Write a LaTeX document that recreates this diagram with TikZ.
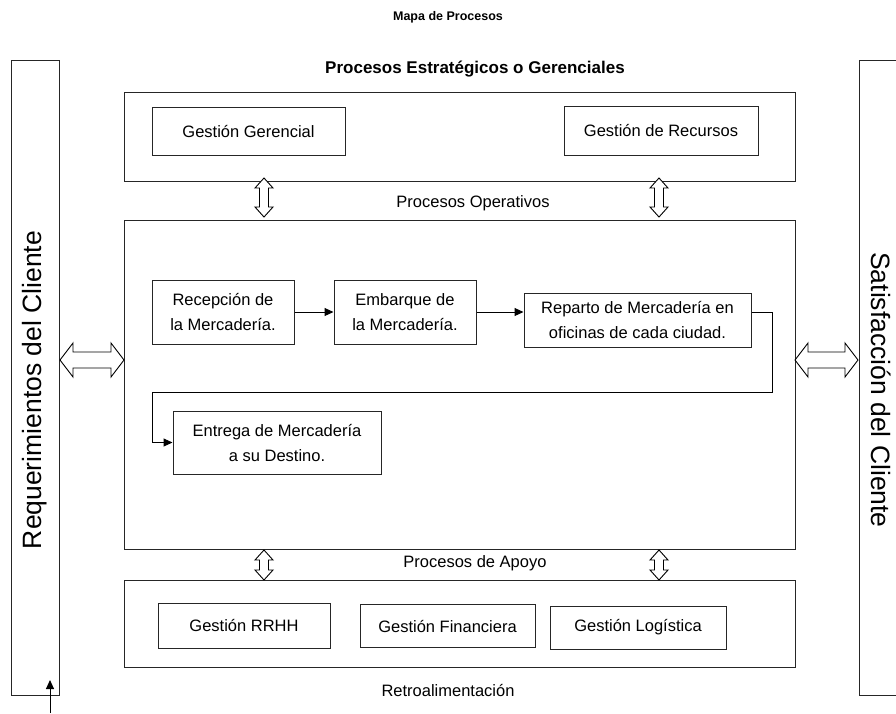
\documentclass[tikz,border=0pt]{standalone}
\usepackage{fontspec}
\setmainfont{Liberation Sans}
\usetikzlibrary{arrows.meta}

\tikzset{
  frame/.style={draw=black!85, line width=1pt, inner sep=0pt},
  procbox/.style={frame, align=center, font=\fontsize{16.5}{25}\selectfont},
  lbl/.style={inner sep=0pt, font=\fontsize{16.5}{20}\selectfont},
  ttl/.style={inner sep=0pt, font=\fontsize{12.5}{15}\selectfont\bfseries},
  side/.style={inner sep=0pt, font=\fontsize{26.5}{30}\selectfont},
  flow/.style={draw=black, line width=1pt, -{Triangle[length=9pt,width=8pt]}},
  hollow/.style={draw=black, line width=0.9pt, fill=white, line join=miter},
}

% hollow two-headed arrows drawn as outlines
% vertical: centre x, top y, bottom y
\newcommand{\vdblarrow}[3]{%
  \draw[hollow] (#1,#2) -- (#1+9,#2+10) -- (#1+4.5,#2+10) -- (#1+4.5,#3-10)
    -- (#1+9,#3-10) -- (#1,#3) -- (#1-9,#3-10) -- (#1-4.5,#3-10)
    -- (#1-4.5,#2+10) -- (#1-9,#2+10) -- cycle;}
% horizontal: left x, right x, centre y
\newcommand{\hdblarrow}[3]{%
  \draw[hollow] (#1,#3) -- (#1+13,#3-17) -- (#1+13,#3-8) -- (#2-13,#3-8)
    -- (#2-13,#3-17) -- (#2,#3) -- (#2-13,#3+17) -- (#2-13,#3+8)
    -- (#1+13,#3+8) -- (#1+13,#3+17) -- cycle;}

\begin{document}
\begin{tikzpicture}[x=1pt, y=-1pt]
  \useasboundingbox (0,0) rectangle (896,713);

  % titles
  \node[ttl] (title) at (448,17) {Mapa de Procesos};
  \node[ttl, font=\fontsize{17}{20}\selectfont\bfseries] (strattitle) at (475,69) {Procesos Estratégicos o Gerenciales};

  % side columns
  \node[frame, minimum width=48pt, minimum height=635pt] (req) at (35,377.5) {};
  \node[side, rotate=90] (reqtxt) at (35,390) {Requerimientos del Cliente};
  \node[frame, minimum width=48pt, minimum height=635pt] (sat) at (883,377.5) {};
  \node[side, rotate=-90] (sattxt) at (881,390) {Satisfacción del Cliente};

  % strategic processes
  \node[frame, minimum width=671pt, minimum height=89pt] (strat) at (459.5,136.5) {};
  \node[procbox, minimum width=193pt, minimum height=48pt] (ger) at (248.5,131) {Gestión Gerencial};
  \node[procbox, minimum width=194pt, minimum height=49pt] (recur) at (661,130.5) {Gestión de Recursos};

  % operational processes
  \node[lbl] (optitle) at (473,203) {Procesos Operativos};
  \node[frame, minimum width=671pt, minimum height=329pt] (oper) at (459.5,384.5) {};
  \node[procbox, minimum width=142pt, minimum height=64pt] (recep) at (223,312) {Recepción de\\la Mercadería.};
  \node[procbox, minimum width=142pt, minimum height=64pt] (emb) at (405,312) {Embarque de\\la Mercadería.};
  \node[procbox, minimum width=227pt, minimum height=54pt] (rep) at (637.5,320) {Reparto de Mercadería en\\oficinas de cada ciudad.};
  \node[procbox, minimum width=208pt, minimum height=63pt] (ent) at (277,442.5) {Entrega de Mercadería\\a su Destino.};

  \draw[flow] (recep.east) -- (emb.west);
  \draw[flow] (emb.east) -- (emb.east -| rep.west);
  \coordinate (r1) at (772,312);
  \coordinate (r2) at (772,392);
  \coordinate (r3) at (152,392);
  \coordinate (r4) at (152,442.5);
  \draw[flow] (rep.east |- r1) -- (r1) -- (r2) -- (r3) -- (r4) -- (ent.west);

  % support processes
  \node[lbl] (aptitle) at (475,563) {Procesos de Apoyo};
  \node[frame, minimum width=671pt, minimum height=87pt] (apoyo) at (459.5,623.5) {};
  \node[procbox, minimum width=172pt, minimum height=45pt] (rrhh) at (244,625.5) {Gestión RRHH};
  \node[procbox, minimum width=175pt, minimum height=43pt] (fin) at (447.5,626) {Gestión Financiera};
  \node[procbox, minimum width=176pt, minimum height=43pt] (log) at (638,627.5) {Gestión Logística};

  % feedback
  \node[lbl] (retro) at (448,690) {Retroalimentación};
  \coordinate (fb) at (50,713);
  \draw[flow] (fb) -- (50,680);

  % two-way links between blocks
  \vdblarrow{264}{178}{217}
  \vdblarrow{659}{178}{217}
  \vdblarrow{264}{550}{580}
  \vdblarrow{659}{550}{580}
  \hdblarrow{60}{124}{360}
  \hdblarrow{795}{858}{360}
\end{tikzpicture}
\end{document}
